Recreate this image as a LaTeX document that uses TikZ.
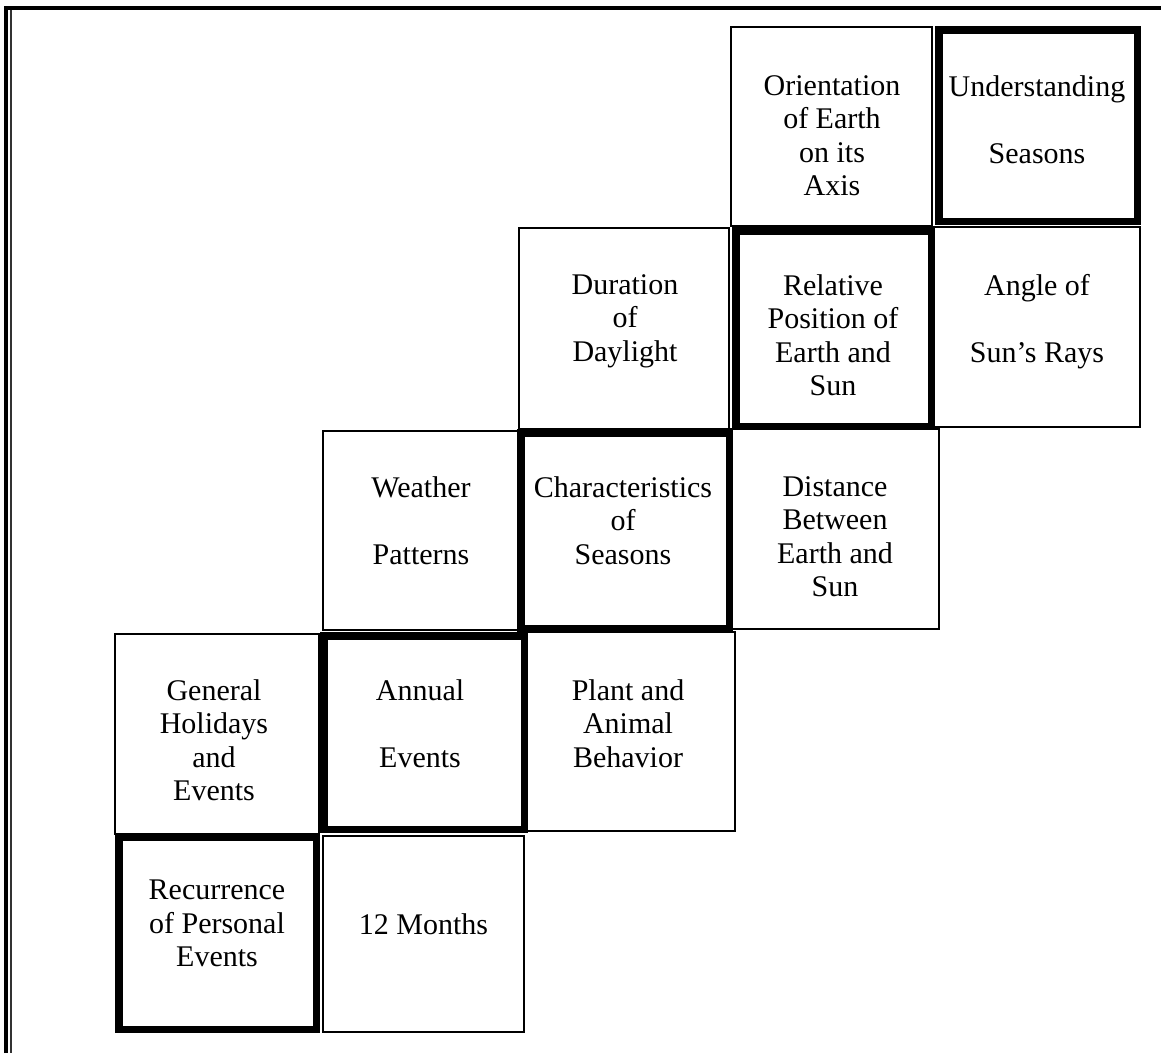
\documentclass[tikz,border=0pt]{standalone}
\usepackage{fontspec}
\setmainfont{Liberation Serif}
\begin{document}
\begin{tikzpicture}[x=1pt,y=-1pt,
  thinbox/.style={draw=black, line width=2pt, inner sep=0pt, fill=none},
  thickbox/.style={draw=black, line width=7.5pt, inner sep=0pt, fill=none},
  lbl/.style={anchor=north, align=center, inner sep=0pt,
    font=\fontsize{30}{33.5}\selectfont}]
\useasboundingbox (0,0) rectangle (1161,1053);
\fill[white] (0,0) rectangle (1161,1053);

% frame: heavy rule on top and a double rule down the left side
\draw[line width=4pt] (5.5,1053) -- (5.5,7.5) -- (1161,7.5);
\draw[line width=2pt, black!80] (10.5,10) -- (10.5,1053);

% plain cells
\node[thinbox, minimum width=201pt, minimum height=199pt] (orient) at (831.5,126.5) {};
\node[thinbox, minimum width=210pt, minimum height=201pt] (dur) at (624,328.5) {};
\node[thinbox, minimum width=206pt, minimum height=200pt] (angle) at (1037,327) {};
\node[thinbox, minimum width=196pt, minimum height=199pt] (weather) at (421,530.5) {};
\node[thinbox, minimum width=208pt, minimum height=200pt] (dist) at (835,529) {};
\node[thinbox, minimum width=204pt, minimum height=200pt] (general) at (217,734) {};
\node[thinbox, minimum width=209pt, minimum height=199pt] (plant) at (630.5,731.5) {};
\node[thinbox, minimum width=201pt, minimum height=196pt] (months) at (423.5,934) {};

% emphasised cells
\node[thickbox, minimum width=198.5pt, minimum height=191.5pt] (underst) at (1038,125.5) {};
\node[thickbox, minimum width=195.5pt, minimum height=195.5pt] (relpos) at (833.5,328.5) {};
\node[thickbox, minimum width=208.5pt, minimum height=195.5pt] (charact) at (625,530.5) {};
\node[thickbox, minimum width=200.5pt, minimum height=193.5pt] (annual) at (424,732.5) {};
\node[thickbox, minimum width=197.5pt, minimum height=192.5pt] (recur) at (217.5,933) {};

% cell texts
\node[lbl] (orient-t) at (832,75) {Orientation\\of Earth\\on its\\Axis};
\node[lbl] (underst-t) at (1037,75) {Understanding\\\mbox{}\\Seasons};
\node[lbl] (dur-t) at (625,274) {Duration\\of\\Daylight};
\node[lbl] (relpos-t) at (833,274) {Relative\\Position of\\Earth and\\Sun};
\node[lbl] (angle-t) at (1037,274) {Angle of\\\mbox{}\\Sun's Rays};
\node[lbl] (weather-t) at (421,476) {Weather\\\mbox{}\\Patterns};
\node[lbl] (charact-t) at (623,476) {Characteristics\\of\\Seasons};
\node[lbl] (dist-t) at (835,476) {Distance\\Between\\Earth and\\Sun};
\node[lbl] (general-t) at (214,679) {General\\Holidays\\and\\Events};
\node[lbl] (annual-t) at (420,679) {Annual\\\mbox{}\\Events};
\node[lbl] (plant-t) at (628,679) {Plant and\\Animal\\Behavior};
\node[lbl] (recur-t) at (217,880) {Recurrence\\of Personal\\Events};
\node[lbl, anchor=base] (months-t) at (423.5,934) {12 Months};
\end{tikzpicture}
\end{document}
